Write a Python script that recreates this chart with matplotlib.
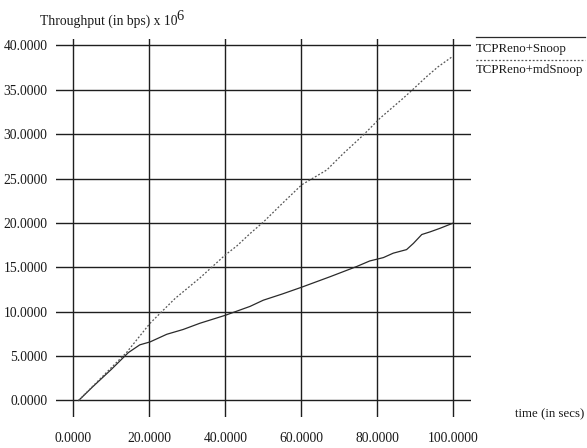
import numpy as np
import matplotlib
matplotlib.use("Agg")
import matplotlib.pyplot as plt
from matplotlib.lines import Line2D
from matplotlib.ticker import FormatStrFormatter

plt.rcParams['font.family'] = ['Liberation Serif', 'DejaVu Serif']

# data (time in secs, throughput in 10^6 bps)
t_snoop = [1.4, 5, 10, 14.5, 17.5, 20.2, 24.6, 28.9, 33.3, 40, 46.5, 50, 55, 60,
           67.6, 74.6, 78, 81.6, 84.2, 87.7, 89.5, 91.7, 93.9, 96.5, 99.8]
v_snoop = [0, 1.5, 3.5, 5.4, 6.27, 6.6, 7.46, 8.0, 8.7, 9.6, 10.6, 11.3, 12.0, 12.75,
           13.95, 15.1, 15.72, 16.1, 16.6, 17.0, 17.7, 18.7, 19.0, 19.4, 19.96]

t_md = [1.4, 5, 10, 14, 20.2, 26.8, 33.3, 40, 43, 46.5, 50, 55, 60.1, 66.7, 71,
        76.3, 80.7, 86.8, 89.5, 93, 96, 99.6]
v_md = [0, 1.55, 3.7, 5.4, 8.7, 11.5, 13.8, 16.4, 17.4, 18.8, 20.1, 22.2, 24.3,
        25.97, 27.8, 29.9, 31.8, 34.05, 35.1, 36.5, 37.6, 38.7]

x_ticks = [0, 20, 40, 60, 80, 100]
y_ticks = [0, 5, 10, 15, 20, 25, 30, 35, 40]
labels = ['TCPReno+Snoop', 'TCPReno+mdSnoop']

W, H = 587, 448
fs = 9.8
fs_side = 9.3  # right-hand texts run to the figure edge
fig = plt.figure(figsize=(W / 100, H / 100), dpi=100)
ax = fig.add_axes([56 / W, 31 / H, 414.7 / W, 378 / H])

ax.plot(t_snoop, v_snoop, color='#2a2a2a', lw=0.9)
ax.plot(t_md, v_md, color='#555555', lw=0.9, linestyle=(0, (1.5, 1.5)))

ax.set_xlim(-4.55, 104.58)
ax.set_ylim(-1.86, 40.73)
ax.set_xticks(x_ticks)
ax.set_yticks(y_ticks)
ax.xaxis.set_major_formatter(FormatStrFormatter('%.4f'))
ax.yaxis.set_major_formatter(FormatStrFormatter('%.4f'))
ax.tick_params(length=0, labelsize=fs, colors='#1a1a1a')
ax.tick_params(axis='x', pad=11)
ax.tick_params(axis='y', pad=6)
ax.grid(True, color='#1e1e1e', lw=1.0)
ax.set_axisbelow(True)
for s in ax.spines.values():
    s.set_visible(False)

# title with a raised exponent, xgraph style
title = fig.text(40 / W, 1 - 25 / H, 'Throughput (in bps) x 10', fontsize=fs,
                 va='baseline', ha='left', color='#1a1a1a')
fig.canvas.draw()
bb = title.get_window_extent()
fig.text((bb.x1 - 1) / W, 1 - 20 / H, '6', fontsize=fs + 0.5,
         va='baseline', ha='left', color='#1a1a1a')

fig.text(515 / W, 31 / H, 'time (in secs)', fontsize=fs_side, va='baseline',
         ha='left', color='#1a1a1a')

# legend: line above each label
fig.add_artist(Line2D([476 / W, 585 / W], [1 - 37 / H, 1 - 37 / H],
                      color='#2a2a2a', lw=0.9))
fig.text(476 / W, 1 - 52 / H, labels[0], fontsize=fs_side, va='baseline', color='#1a1a1a')
fig.add_artist(Line2D([476 / W, 585 / W], [1 - 60 / H, 1 - 60 / H],
                      color='#555555', lw=0.9, linestyle=(0, (1.5, 1.5))))
fig.text(476 / W, 1 - 73 / H, labels[1], fontsize=fs_side, va='baseline', color='#1a1a1a')

fig.savefig('out.png', dpi=100)
